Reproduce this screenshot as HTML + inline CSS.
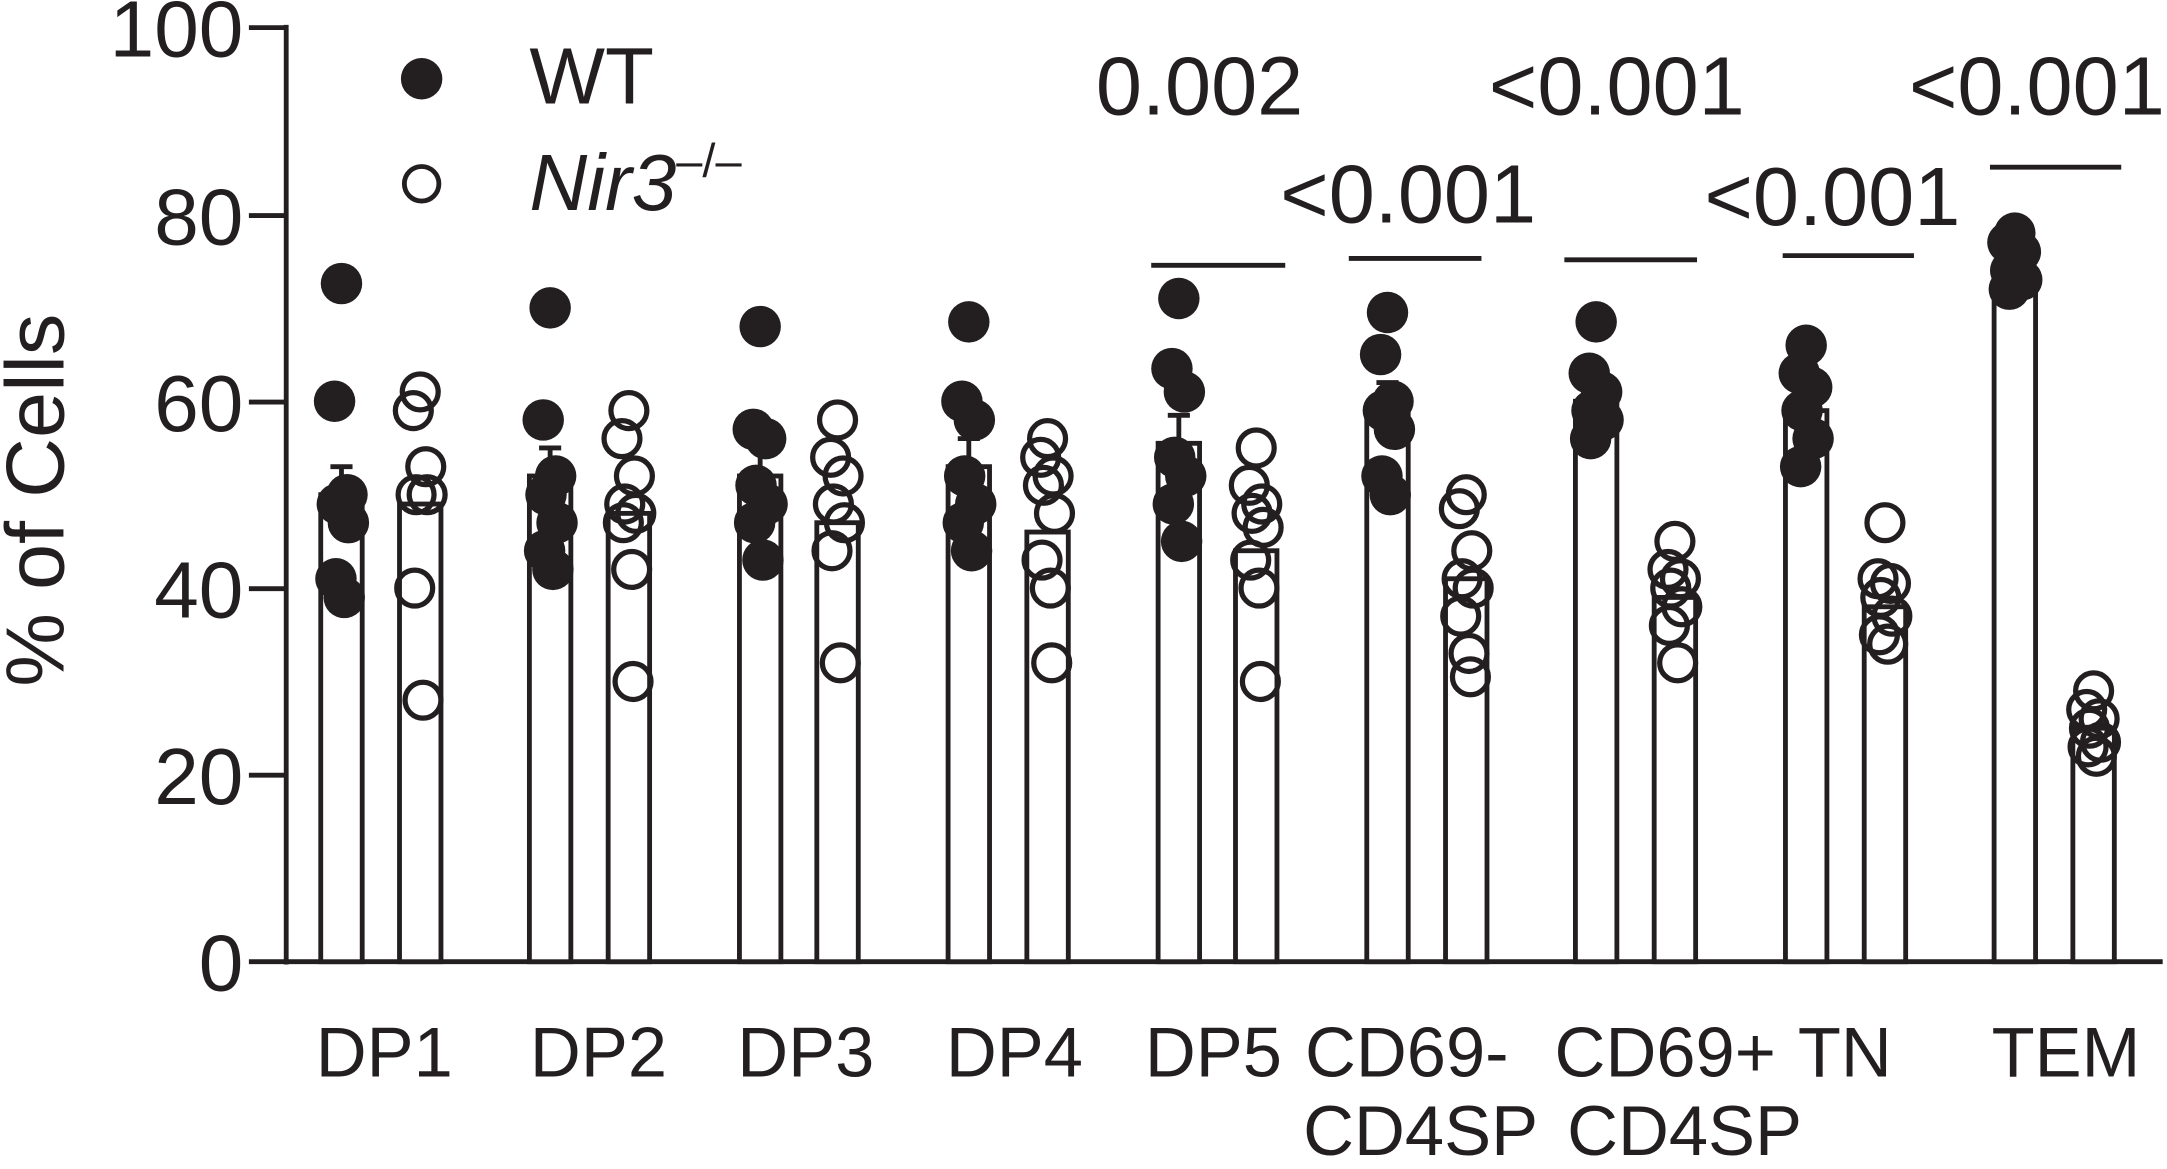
<!DOCTYPE html>
<html><head><meta charset="utf-8"><style>html,body{margin:0;padding:0;background:#fff}svg{display:block}</style></head><body>
<svg width="2167" height="1169" viewBox="0 0 1568 846" xmlns="http://www.w3.org/2000/svg" font-family="Liberation Sans, Arial, sans-serif" fill="#231f20">
<g stroke="#231f20" stroke-width="3.5" fill="none">
<line x1="207" y1="18" x2="207" y2="698"/>
<line x1="180" y1="696" x2="1565" y2="696"/>
<line x1="180" y1="20" x2="207" y2="20"/><line x1="180" y1="156" x2="207" y2="156"/><line x1="180" y1="291" x2="207" y2="291"/><line x1="180" y1="426" x2="207" y2="426"/><line x1="180" y1="561" x2="207" y2="561"/>
<line x1="833" y1="192" x2="930" y2="192"/><line x1="976" y1="187" x2="1072" y2="187"/><line x1="1132" y1="188" x2="1228" y2="188"/><line x1="1290" y1="185" x2="1385" y2="185"/><line x1="1440" y1="121" x2="1535" y2="121"/>
</g>
<g font-size="58" text-anchor="end"><text x="176" y="41">100</text><text x="176" y="177">80</text><text x="176" y="312">60</text><text x="176" y="447">40</text><text x="176" y="582">20</text><text x="176" y="717">0</text></g>
<text transform="translate(46,362) rotate(-90)" font-size="60" text-anchor="middle">% of Cells</text>
<circle cx="305" cy="57" r="15"/><text x="383" y="75" font-size="58">WT</text>
<circle cx="305" cy="133" r="12.5" fill="none" stroke="#231f20" stroke-width="3.5"/><text x="383" y="152" font-size="58" font-style="italic">Nir3<tspan font-style="normal" font-size="34" dy="-24">–/–</tspan></text>
<g font-size="60" text-anchor="middle"><text x="868" y="83">0.002</text><text x="1019" y="161">&lt;0.001</text><text x="1170" y="83">&lt;0.001</text><text x="1326" y="163">&lt;0.001</text><text x="1474" y="83">&lt;0.001</text></g>
<g font-size="51" text-anchor="middle"><text x="278" y="779">DP1</text><text x="433" y="779">DP2</text><text x="583" y="779">DP3</text><text x="734" y="779">DP4</text><text x="878" y="779">DP5</text><text x="1018" y="779">CD69-</text><text x="1028" y="836">CD4SP</text><text x="1205" y="779">CD69+</text><text x="1219" y="836">CD4SP</text><text x="1335" y="779">TN</text><text x="1495" y="779">TEM</text></g>
<g id="plot"></g>
<script>
var g=document.getElementById('plot'),NS='http://www.w3.org/2000/svg';
function Y(v){return 696-v*6.76}
function el(n,a){var e=document.createElementNS(NS,n);for(var k in a)e.setAttribute(k,a[k]);g.appendChild(e);return e}
var wx=[232,383,535,686,838,989,1140,1292,1443],kx=[289,440,591,743,894,1046,1197,1349,1500];
var wb=[50,52,52,53,55.5,59,60,59,74],kb=[49,48,47,46,44,41,39,38,25];
var wp=[[72.6,60,50,49,47,41,39],[70,58,52,50,47,44,42],[68,57,56,51,49,47,43],[68.5,60,58,52,49,47,44],[71,63.5,61,54,52,49,45],[69.5,65,60,59,57,52,50],[68.5,63,61,59,58,56],[66,63,61.5,59,56,53],[78,77,76,74,73,72]];
var kp=[[61,59,53,50,50,40,28],[59,56,52,49,48,47,42,30],[58,54,52,49,47,44,32],[56,54,52,51,48,43,40,32],[55,51,49,48,46.5,43,40,30],[50,48.5,44,41,40,37,33,30.5],[45,42,41,40,38,36,32],[47,41,40.5,39,37,35,34],[29,27,26,25,23.5,23,22]];
var jit=[0,-5,4,-3,5,-4,2,3];
for(var i=0;i<9;i++){
 el('rect',{x:wx[i],y:Y(wb[i]),width:30,height:696-Y(wb[i]),fill:'#fff',stroke:'#231f20','stroke-width':3.5});
 el('rect',{x:kx[i],y:Y(kb[i]),width:30,height:696-Y(kb[i]),fill:'#fff',stroke:'#231f20','stroke-width':3.5});
 el('line',{x1:wx[i]+15,y1:Y(wb[i]),x2:wx[i]+15,y2:Y(wb[i]+3),stroke:'#231f20','stroke-width':3.5});
 el('line',{x1:wx[i]+7,y1:Y(wb[i]+3),x2:wx[i]+23,y2:Y(wb[i]+3),stroke:'#231f20','stroke-width':3.5});
 wp[i].forEach(function(v,j){el('circle',{cx:wx[i]+15+jit[j],cy:Y(v),r:15,fill:'#231f20'})});
 kp[i].forEach(function(v,j){el('circle',{cx:kx[i]+15+jit[j],cy:Y(v),r:13,fill:'none',stroke:'#231f20','stroke-width':3.8})});
}
</script>
</svg>
</body></html>
